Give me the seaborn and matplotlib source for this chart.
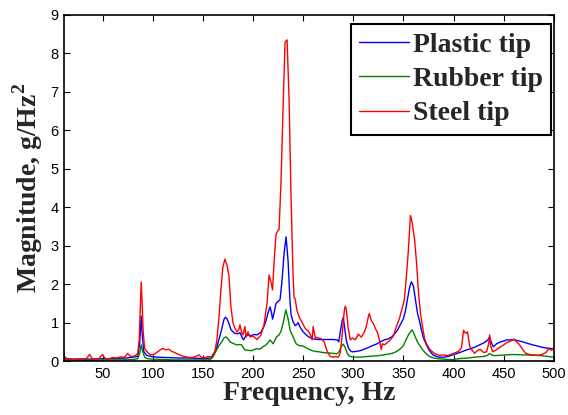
import matplotlib
matplotlib.use('Agg')
import matplotlib.pyplot as plt
import pandas as pd
import seaborn as sns

# Data (frequency in Hz, magnitude in g/Hz^2)
steel_freq = [11, 12, 14, 18, 22, 26, 30, 34, 37, 39, 42, 46, 50, 52, 55, 60, 64, 68, 72, 75,
              78, 82, 85, 86.5, 87.5, 88.5, 89.5, 90.5, 92, 95, 98, 101, 104, 107, 110, 113, 116, 119, 122, 125,
              128, 131, 135, 139, 143, 146, 149, 152, 155, 158, 160, 162, 164, 166, 168, 170, 172, 174, 176, 178,
              180, 182, 184, 186, 187, 189, 190, 192, 193, 195, 197, 200, 204, 208, 211, 214, 216, 218, 219.5, 221,
              223, 225, 226, 228, 230, 232, 234, 236, 238, 240, 241, 242, 244, 246, 249, 252, 255, 257, 259, 260,
              262, 265, 268, 271, 274, 277, 280, 283, 285, 287, 289, 291, 292, 293, 295, 297, 299, 302, 305, 308,
              311, 313, 315, 316, 318, 320, 322, 324, 326, 328, 329, 331, 334, 337, 340, 343, 346, 349, 351, 353,
              355, 357, 358, 359, 361, 363, 365, 367, 369, 371, 373, 376, 379, 382, 386, 390, 394, 398, 402, 405,
              408, 410, 412, 414, 416, 418, 421, 424, 427, 430, 433, 435, 436, 437, 439, 442, 445, 449, 453, 457,
              460, 463, 466, 469, 472, 476, 480, 484, 488, 492, 495, 498, 500]
steel_mag = [0.28, 0.12, 0.06, 0.05, 0.04, 0.06, 0.05, 0.06, 0.17, 0.08, 0.05, 0.06, 0.17, 0.08, 0.05, 0.09, 0.08, 0.11, 0.10, 0.20,
             0.12, 0.13, 0.20, 0.55, 1.30, 2.06, 1.45, 0.75, 0.32, 0.22, 0.16, 0.17, 0.22, 0.28, 0.33, 0.29, 0.31, 0.25, 0.22, 0.18,
             0.15, 0.12, 0.10, 0.09, 0.12, 0.16, 0.09, 0.08, 0.12, 0.10, 0.17, 0.25, 0.55, 1.10, 1.85, 2.45, 2.65, 2.50, 2.22, 1.40,
             1.00, 0.85, 0.76, 0.82, 0.94, 0.72, 0.68, 0.90, 0.62, 0.76, 0.63, 0.65, 0.56, 0.68, 0.95, 1.50, 2.24, 2.05, 1.85, 2.55,
             3.30, 3.40, 3.42, 4.70, 6.60, 8.30, 8.35, 6.80, 4.20, 2.20, 1.65, 1.62, 1.30, 1.15, 1.00, 0.85, 0.78, 0.70, 0.55, 0.90,
             0.62, 0.60, 0.58, 0.50, 0.25, 0.12, 0.10, 0.12, 0.10, 0.20, 0.70, 1.30, 1.43, 1.35, 0.85, 0.55, 0.60, 0.55, 0.70, 0.62,
             0.75, 0.90, 1.15, 1.24, 1.05, 0.98, 0.85, 0.75, 0.55, 0.30, 0.45, 0.42, 0.48, 0.55, 0.65, 0.90, 1.10, 1.40, 1.60, 2.20,
             2.90, 3.78, 3.70, 3.55, 3.20, 2.60, 1.80, 1.25, 0.90, 0.60, 0.45, 0.32, 0.24, 0.18, 0.15, 0.16, 0.14, 0.18, 0.22, 0.25,
             0.35, 0.80, 0.72, 0.76, 0.40, 0.30, 0.20, 0.28, 0.30, 0.22, 0.24, 0.45, 0.68, 0.40, 0.24, 0.28, 0.34, 0.40, 0.48, 0.52,
             0.57, 0.50, 0.42, 0.30, 0.20, 0.17, 0.16, 0.15, 0.17, 0.22, 0.32, 0.28, 0.35]

plastic_freq = [11, 15, 20, 30, 40, 50, 60, 70, 80, 85, 87, 88.5, 89.5, 91, 94, 98, 105, 115, 125, 135,
                145, 155, 158, 161, 164, 167, 169, 171, 172.5, 174, 176, 178, 180, 182, 185, 187, 189, 190.5, 192, 195,
                198, 201, 204, 208, 211, 213, 215, 217, 218.5, 219.5, 221, 223, 225, 227, 229, 231, 233, 235, 236.8, 238,
                240, 242, 244, 245, 247, 250, 253, 256, 260, 265, 270, 275, 280, 284, 285.5, 287, 289, 290, 291, 293,
                295, 297, 299, 303, 307, 311, 315, 319, 323, 327, 331, 335, 338, 341, 344, 347, 350, 352, 354, 356,
                358, 360, 362, 364, 366, 368, 370, 373, 376, 379.5, 383, 386, 390, 395, 399, 404, 408, 413, 418, 422,
                426, 430, 433, 435, 436, 437.5, 439.6, 441, 443, 447, 450, 453, 457, 461, 466, 470, 475, 479, 484, 488,
                492.5, 496, 500]
plastic_mag = [0.10, 0.06, 0.05, 0.05, 0.05, 0.06, 0.06, 0.07, 0.10, 0.12, 0.45, 1.17, 0.70, 0.25, 0.15, 0.12, 0.10, 0.09, 0.08, 0.08,
               0.07, 0.07, 0.08, 0.18, 0.37, 0.65, 0.85, 1.08, 1.14, 1.10, 0.98, 0.82, 0.76, 0.72, 0.71, 0.74, 0.62, 0.55, 0.62, 0.68,
               0.66, 0.69, 0.68, 0.75, 0.90, 1.05, 1.25, 1.41, 1.25, 1.09, 1.25, 1.50, 1.55, 1.60, 2.10, 2.80, 3.23, 2.60, 1.60, 1.20,
               1.02, 0.92, 0.96, 1.00, 0.88, 0.76, 0.68, 0.62, 0.58, 0.56, 0.56, 0.56, 0.56, 0.55, 0.50, 0.75, 1.05, 1.14, 0.95, 0.55,
               0.35, 0.27, 0.24, 0.25, 0.27, 0.31, 0.35, 0.40, 0.44, 0.50, 0.55, 0.58, 0.62, 0.70, 0.80, 0.95, 1.10, 1.30, 1.60, 1.90,
               2.06, 1.95, 1.60, 1.25, 1.05, 0.80, 0.60, 0.42, 0.27, 0.16, 0.12, 0.10, 0.10, 0.12, 0.16, 0.20, 0.24, 0.29, 0.33, 0.37,
               0.42, 0.47, 0.52, 0.58, 0.63, 0.50, 0.37, 0.40, 0.45, 0.50, 0.52, 0.55, 0.55, 0.55, 0.52, 0.49, 0.45, 0.42, 0.39, 0.36,
               0.34, 0.33, 0.31]

rubber_freq = [11, 20, 30, 40, 50, 60, 70, 80, 85, 87, 88.5, 90, 92, 95, 100, 110, 120, 130, 140, 150,
               157, 160, 163.8, 166, 168.8, 171, 173, 175, 177, 180, 183.7, 186, 188.7, 190, 192, 195, 198.7, 201, 203.6, 207,
               210.3, 213, 215, 217, 218.5, 220, 222, 223.5, 226, 228, 230, 232.7, 235, 237, 240, 243, 246, 250, 254, 258,
               262, 266, 270, 275, 280, 284, 286, 288, 290, 292, 294, 296, 300, 305, 310, 315, 320, 325, 330, 335,
               340, 344, 347, 350, 352, 355, 358.5, 360, 362, 364, 366, 369, 373, 376, 380, 385, 390, 395, 400, 405,
               410, 415, 420, 425, 430, 434, 436, 438, 441, 446, 452, 460, 470, 480, 488, 494, 500]
rubber_mag = [0.04, 0.03, 0.02, 0.02, 0.03, 0.03, 0.03, 0.04, 0.06, 0.20, 0.42, 0.25, 0.10, 0.06, 0.05, 0.04, 0.03, 0.03, 0.03, 0.03,
              0.03, 0.10, 0.29, 0.40, 0.50, 0.60, 0.63, 0.58, 0.50, 0.46, 0.42, 0.43, 0.42, 0.36, 0.29, 0.28, 0.27, 0.30, 0.32, 0.31,
              0.38, 0.42, 0.48, 0.55, 0.50, 0.45, 0.55, 0.63, 0.68, 0.78, 0.98, 1.33, 1.10, 0.80, 0.63, 0.45, 0.40, 0.39, 0.33, 0.28,
              0.25, 0.24, 0.22, 0.21, 0.20, 0.19, 0.25, 0.38, 0.44, 0.35, 0.20, 0.13, 0.10, 0.10, 0.11, 0.12, 0.13, 0.14, 0.16, 0.18,
              0.21, 0.26, 0.32, 0.40, 0.52, 0.68, 0.81, 0.75, 0.62, 0.50, 0.42, 0.30, 0.18, 0.12, 0.08, 0.06, 0.05, 0.04, 0.04, 0.06,
              0.07, 0.08, 0.10, 0.11, 0.12, 0.15, 0.20, 0.16, 0.14, 0.15, 0.16, 0.17, 0.16, 0.15, 0.14, 0.12, 0.10]

tip_names = ['Plastic tip', 'Rubber tip', 'Steel tip']
palette = {'Plastic tip': '#0000ff', 'Rubber tip': '#008000', 'Steel tip': '#ff0000'}

sns.set_style('ticks')
plt.rcParams['font.family'] = ['Liberation Sans', 'DejaVu Sans']
plt.rcParams['mathtext.fontset'] = 'custom'
plt.rcParams['mathtext.rm'] = 'Liberation Serif:bold'
plt.rcParams['mathtext.bf'] = 'Liberation Serif:bold'

# long-form table for seaborn
frames = []
for name, f, m in zip(tip_names,
                      [plastic_freq, rubber_freq, steel_freq],
                      [plastic_mag, rubber_mag, steel_mag]):
    frames.append(pd.DataFrame({'Frequency': f, 'Magnitude': m, 'tip': name}))
df = pd.concat(frames, ignore_index=True)

fig, ax = plt.subplots(figsize=(5.68, 4.15), dpi=100)
fig.subplots_adjust(left=0.113, right=0.975, bottom=0.13, top=0.964)

sns.lineplot(data=df, x='Frequency', y='Magnitude', hue='tip', hue_order=tip_names,
             palette=palette, estimator=None, linewidth=1.0, ax=ax)

ax.set_xlim(11.7, 500)
ax.set_ylim(0, 9)
ax.set_xticks(range(50, 501, 50))
ax.set_yticks(range(0, 10))
ax.tick_params(direction='in', top=True, right=True, length=4, width=0.8,
               labelsize=10.5, colors='black', pad=4)
for sp in ax.spines.values():
    sp.set_visible(True)
    sp.set_linewidth(1.2)
    sp.set_color('black')

label_font = {'family': 'Liberation Serif', 'weight': 'bold', 'size': 20}
ax.set_xlabel('Frequency, Hz', fontdict=label_font, labelpad=0)
ax.set_ylabel(r'Magnitude, g/Hz$^\mathbf{2}$', fontdict=label_font, labelpad=4)

handles, labels = ax.get_legend_handles_labels()
leg = ax.legend(handles, labels, loc='upper right', bbox_to_anchor=(0.994, 0.974),
                borderaxespad=0, prop={'family': 'Liberation Serif', 'weight': 'bold', 'size': 20},
                frameon=True, fancybox=False, edgecolor='black', framealpha=1,
                handlelength=1.8, handletextpad=0.12, labelspacing=0.32, borderpad=0.3)
leg.get_frame().set_linewidth(1.5)

fig.savefig('out.png', dpi=100)
